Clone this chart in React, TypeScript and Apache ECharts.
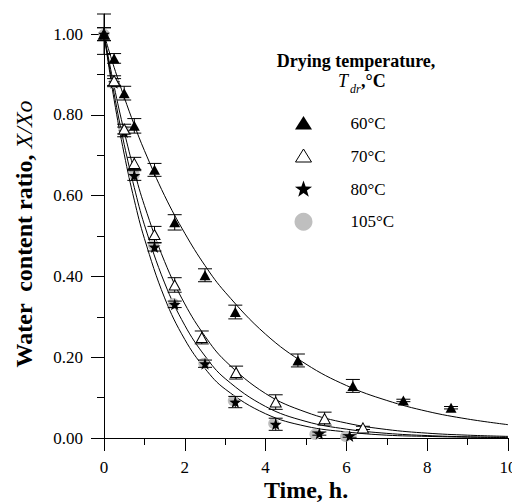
import React, { useEffect, useRef } from "react";
import * as echarts from "echarts";

// ---- data ----
const times60 = [0, 0.25, 0.5, 0.75, 1.25, 1.75, 2.5, 3.25, 4.8, 6.16, 7.41, 8.59];
const ratio60 = [1.0, 0.94, 0.854, 0.773, 0.664, 0.534, 0.403, 0.312, 0.192, 0.129, 0.093, 0.075];
const err60 = [0.05, 0.012, 0.017, 0.018, 0.016, 0.019, 0.016, 0.017, 0.016, 0.016, 0.003, 0.003];

const times70 = [0, 0.25, 0.5, 0.75, 1.25, 1.75, 2.42, 3.27, 4.25, 5.46, 6.41];
const ratio70 = [1.0, 0.885, 0.765, 0.68, 0.504, 0.379, 0.249, 0.162, 0.089, 0.048, 0.025];
const err70 = [0.016, 0.012, 0.012, 0.015, 0.02, 0.018, 0.016, 0.016, 0.018, 0.016, 0.004];

const times80 = [0, 0.25, 0.5, 0.75, 1.25, 1.75, 2.5, 3.25, 4.25, 5.33, 6.08];
const ratio80 = [1.0, 0.88, 0.758, 0.65, 0.473, 0.331, 0.184, 0.089, 0.034, 0.011, 0.005];
const err80 = [0.016, 0.01, 0.012, 0.012, 0.01, 0.008, 0.009, 0.014, 0.015, 0.004, 0.003];

const times105 = [0, 0.25, 0.5, 0.75, 1.22, 1.72, 2.47, 3.2, 4.2, 5.22, 5.98];
const ratio105 = [1.0, 0.88, 0.76, 0.652, 0.478, 0.333, 0.185, 0.092, 0.036, 0.009, 0.004];

const curveTimes = [0, 0.25, 0.5, 0.75, 1, 1.5, 2, 2.5, 3, 4, 5, 6, 7, 8, 9, 10];
const curve60 = [1, 0.918, 0.844, 0.775, 0.712, 0.6, 0.507, 0.427, 0.361, 0.257, 0.183, 0.13, 0.093, 0.066, 0.047, 0.033];
const curve70 = [1, 0.871, 0.759, 0.661, 0.576, 0.437, 0.332, 0.252, 0.191, 0.11, 0.064, 0.037, 0.021, 0.012, 0.007, 0.004];
const curve80 = [1, 0.853, 0.727, 0.62, 0.528, 0.384, 0.279, 0.203, 0.147, 0.078, 0.041, 0.022, 0.0115, 0.006, 0.003, 0.002];
const curve105 = [1, 0.838, 0.703, 0.589, 0.494, 0.347, 0.244, 0.172, 0.121, 0.06, 0.029, 0.015, 0.007, 0.004, 0.002, 0.001];

const majorY = [0, 0.2, 0.4, 0.6, 0.8, 1.0];
const minorY = [0.1, 0.3, 0.5, 0.7, 0.9];
const legendLabels = ["60\u00B0C", "70\u00B0C", "80\u00B0C", "105\u00B0C"];

const SERIF = '"Liberation Serif", "Times New Roman", "DejaVu Serif", serif';
const STAR = "path://M50 0 L61.76 33.82 L97.55 34.55 L69.02 56.18 L79.39 90.45 L50 70 L20.61 90.45 L30.98 56.18 L2.45 34.55 L38.24 33.82 Z";

function starPoints(cx: number, cy: number, R: number, r: number) {
  const pts: number[][] = [];
  for (let i = 0; i < 10; i++) {
    const a = -Math.PI / 2 + (i * Math.PI) / 5;
    const rad = i % 2 === 0 ? R : r;
    pts.push([cx + rad * Math.cos(a), cy + rad * Math.sin(a)]);
  }
  return pts;
}

function errorSeries(times: number[], vals: number[], errs: number[]) {
  return {
    type: "custom",
    silent: true,
    encode: { x: 0, y: [1, 2] },
    data: times.map((t, i) => [t, vals[i] - errs[i], vals[i] + errs[i]]),
    renderItem: (params: any, api: any) => {
      const x = api.value(0);
      const lo = api.coord([x, api.value(1)]);
      const hi = api.coord([x, api.value(2)]);
      const w = 7;
      const st = { stroke: "#000", lineWidth: 1 };
      return {
        type: "group",
        children: [
          { type: "line", shape: { x1: hi[0], y1: hi[1], x2: lo[0], y2: lo[1] }, style: st },
          { type: "line", shape: { x1: hi[0] - w, y1: hi[1], x2: hi[0] + w, y2: hi[1] }, style: st },
          { type: "line", shape: { x1: lo[0] - w, y1: lo[1], x2: lo[0] + w, y2: lo[1] }, style: st },
        ],
      };
    },
    z: 3,
  };
}

function fitSeries(vals: number[]) {
  return {
    type: "line",
    data: curveTimes.map((t, i) => [t, vals[i]]),
    smooth: 0.4,
    showSymbol: false,
    silent: true,
    lineStyle: { color: "#000", width: 1 },
    z: 2,
  };
}

export default function App() {
  const ref = useRef<HTMLDivElement>(null);
  useEffect(() => {
    document.body.style.margin = "0";
    if (!ref.current) return;
    const chart = echarts.init(ref.current, null, { renderer: "svg" });
    const axisStyle = { color: "#000", width: 1 };
    const legendYs = [123, 156.5, 189, 221.7];
    const option: any = {
      animation: false,
      backgroundColor: "#fff",
      grid: { left: 104, right: 4, top: 14, bottom: 64, containLabel: false, outerBoundsMode: "none" },
      xAxis: {
        type: "value",
        min: 0,
        max: 10,
        interval: 2,
        axisLine: { lineStyle: axisStyle },
        axisTick: { length: 13, lineStyle: axisStyle },
        minorTick: { show: true, splitNumber: 2, length: 7, lineStyle: axisStyle },
        axisLabel: { fontSize: 17, color: "#000", fontFamily: SERIF, margin: 21, hideOverlap: false },
        splitLine: { show: false },
        minorSplitLine: { show: false },
        name: "Time, h.",
        nameLocation: "middle",
        nameGap: 40,
        nameMoveOverlap: false,
        nameTextStyle: { fontSize: 24, fontWeight: "bold", fontFamily: SERIF, color: "#000" },
      },
      yAxis: [
        {
          type: "value",
          min: 0,
          max: 1.05,
          position: "left",
          axisLine: { show: true, lineStyle: axisStyle },
          axisTick: { show: true, length: 13, lineStyle: axisStyle, customValues: majorY },
          axisLabel: {
            fontSize: 17,
            color: "#000",
            fontFamily: SERIF,
            margin: 21,
            customValues: majorY,
            formatter: (v: number) => v.toFixed(2),
          },
          splitLine: { show: false },
        },
        {
          type: "value",
          min: 0,
          max: 1.05,
          position: "left",
          axisLine: { show: false },
          axisTick: { show: true, length: 7, lineStyle: axisStyle, customValues: minorY },
          axisLabel: { show: false },
          splitLine: { show: false },
        },
      ],
      graphic: [
        {
          type: "text",
          x: 24,
          y: 234,
          rotation: Math.PI / 2,
          style: {
            text: "{b|Water  content ratio, }{i|X/Xo}",
            align: "center",
            verticalAlign: "middle",
            rich: {
              b: { fontSize: 24, fontWeight: "bold", fontFamily: SERIF, fill: "#000" },
              i: { fontSize: 24, fontStyle: "italic", fontFamily: SERIF, fill: "#000" },
            },
          },
        },
        {
          type: "text",
          x: 356,
          y: 60.5,
          style: {
            text: "Drying temperature,",
            align: "center",
            verticalAlign: "middle",
            fontSize: 18,
            fontWeight: "bold",
            fontFamily: SERIF,
            fill: "#000",
          },
        },
        {
          type: "text",
          x: 338,
          y: 80.5,
          style: { text: "T", align: "left", verticalAlign: "middle", fontSize: 18, fontStyle: "italic", fontFamily: SERIF, fill: "#000" },
        },
        {
          type: "text",
          x: 350,
          y: 89,
          style: { text: "dr", align: "left", verticalAlign: "middle", fontSize: 12, fontStyle: "italic", fontFamily: SERIF, fill: "#000" },
        },
        {
          type: "text",
          x: 361,
          y: 80.5,
          style: { text: ",\u00B0C", align: "left", verticalAlign: "middle", fontSize: 18, fontWeight: "bold", fontFamily: SERIF, fill: "#000" },
        },
        {
          type: "polygon",
          shape: { points: [[295, 129.5], [312, 129.5], [303.5, 116]] },
          style: { fill: "#000" },
        },
        {
          type: "polygon",
          shape: { points: [[295.5, 162], [311.5, 162], [303.5, 149]] },
          style: { fill: "#fff", stroke: "#000", lineWidth: 1 },
        },
        {
          type: "polygon",
          shape: { points: starPoints(303.5, 189.5, 9, 3.6) },
          style: { fill: "#000" },
        },
        {
          type: "circle",
          shape: { cx: 303.5, cy: 221.7, r: 9 },
          style: { fill: "#bfbfbf" },
        },
        ...legendLabels.map((lab, i) => ({
          type: "text",
          x: 350.5,
          y: legendYs[i],
          style: { text: lab, align: "left", verticalAlign: "middle", fontSize: 17, fontFamily: SERIF, fill: "#000" },
        })),
      ],
      series: [
        fitSeries(curve60),
        fitSeries(curve70),
        fitSeries(curve80),
        fitSeries(curve105),
        {
          type: "scatter",
          name: "105",
          data: times105.map((t, i) => [t, ratio105[i]]),
          symbol: "circle",
          symbolSize: 11,
          itemStyle: { color: "#bfbfbf", opacity: 1 },
          silent: true,
          z: 2,
        },
        errorSeries(times80, ratio80, err80),
        errorSeries(times70, ratio70, err70),
        errorSeries(times60, ratio60, err60),
        {
          type: "scatter",
          name: "80",
          data: times80.map((t, i) => [t, ratio80[i]]),
          symbol: STAR,
          symbolSize: 12,
          itemStyle: { color: "#000", opacity: 1 },
          silent: true,
          z: 4,
        },
        {
          type: "scatter",
          name: "70",
          data: times70.map((t, i) => [t, ratio70[i]]),
          symbol: "triangle",
          symbolSize: [11, 10],
          itemStyle: { color: "#fff", borderColor: "#000", borderWidth: 1, opacity: 1 },
          silent: true,
          z: 4,
        },
        {
          type: "scatter",
          name: "60",
          data: times60.map((t, i) => [t, ratio60[i]]),
          symbol: "triangle",
          symbolSize: [11, 10],
          itemStyle: { color: "#000", opacity: 1 },
          silent: true,
          z: 4,
        },
      ],
    };
    chart.setOption(option);
    return () => chart.dispose();
  }, []);
  return <div ref={ref} style={{ width: 512, height: 502 }} />;
}
